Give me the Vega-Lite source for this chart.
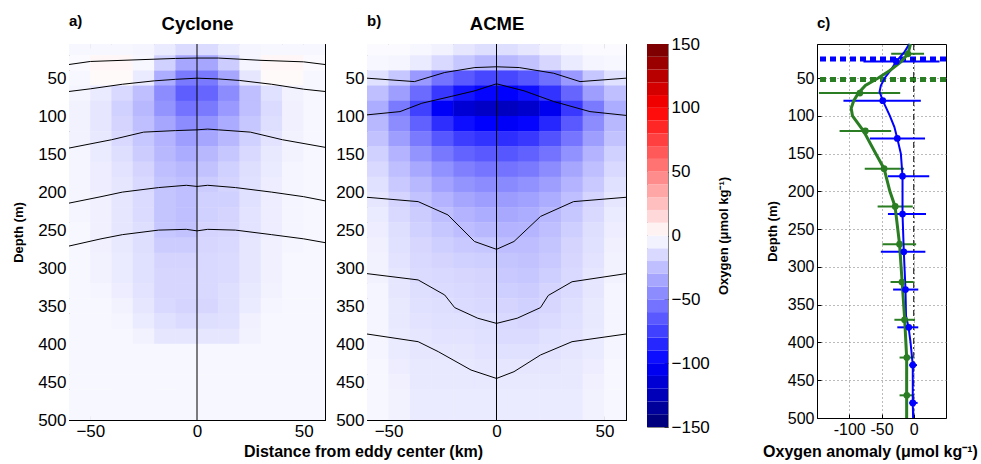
{
"$schema": "https://vega.github.io/schema/vega-lite/v6.json",
"padding": {"left": 12, "top": 13, "right": 2, "bottom": 2},
"bounds": "flush",
"spacing": 0,
"config": {
 "font": "Liberation Sans",
 "view": {"stroke": "black", "strokeWidth": 1},
 "axis": {"domain": true, "domainColor": "black", "domainWidth": 1, "grid": false, "labelColor": "black", "titleColor": "black", "tickColor": "black", "labelFontSize": 17, "titleFontSize": 13, "titleFontWeight": "bold", "tickSize": -4, "labelPadding": 7, "zindex": 1, "labelFont": "Liberation Sans", "titleFont": "Liberation Sans"},
 "title": {"fontSize": 15, "fontWeight": "bold", "color": "black", "anchor": "start", "frame": "group", "font": "Liberation Sans"}
},
"datasets": {
 "cy": [
{"x":-55,"d":10,"v":-3},{"x":-45,"d":10,"v":-3},{"x":-35,"d":10,"v":-3},{"x":-25,"d":10,"v":-4},{"x":-15,"d":10,"v":-8},{"x":-5,"d":10,"v":-14},{"x":5,"d":10,"v":-14},{"x":15,"d":10,"v":-8},{"x":25,"d":10,"v":-4},{"x":35,"d":10,"v":-3},{"x":45,"d":10,"v":-3},{"x":55,"d":10,"v":-3},
{"x":-55,"d":30,"v":-2},{"x":-45,"d":30,"v":3},{"x":-35,"d":30,"v":3},{"x":-25,"d":30,"v":-3},{"x":-15,"d":30,"v":-18},{"x":-5,"d":30,"v":-35},{"x":5,"d":30,"v":-35},{"x":15,"d":30,"v":-20},{"x":25,"d":30,"v":-4},{"x":35,"d":30,"v":3},{"x":45,"d":30,"v":3},{"x":55,"d":30,"v":-2},
{"x":-55,"d":50,"v":-3},{"x":-45,"d":50,"v":2},{"x":-35,"d":50,"v":2},{"x":-25,"d":50,"v":-8},{"x":-15,"d":50,"v":-32},{"x":-5,"d":50,"v":-52},{"x":5,"d":50,"v":-52},{"x":15,"d":50,"v":-35},{"x":25,"d":50,"v":-10},{"x":35,"d":50,"v":2},{"x":45,"d":50,"v":2},{"x":55,"d":50,"v":-3},
{"x":-55,"d":70,"v":-4},{"x":-45,"d":70,"v":-8},{"x":-35,"d":70,"v":-15},{"x":-25,"d":70,"v":-25},{"x":-15,"d":70,"v":-45},{"x":-5,"d":70,"v":-63},{"x":5,"d":70,"v":-60},{"x":15,"d":70,"v":-45},{"x":25,"d":70,"v":-25},{"x":35,"d":70,"v":-12},{"x":45,"d":70,"v":-5},{"x":55,"d":70,"v":-3},
{"x":-55,"d":90,"v":-5},{"x":-45,"d":90,"v":-10},{"x":-35,"d":90,"v":-18},{"x":-25,"d":90,"v":-28},{"x":-15,"d":90,"v":-42},{"x":-5,"d":90,"v":-55},{"x":5,"d":90,"v":-52},{"x":15,"d":90,"v":-40},{"x":25,"d":90,"v":-25},{"x":35,"d":90,"v":-14},{"x":45,"d":90,"v":-6},{"x":55,"d":90,"v":-3},
{"x":-55,"d":110,"v":-5},{"x":-45,"d":110,"v":-10},{"x":-35,"d":110,"v":-17},{"x":-25,"d":110,"v":-25},{"x":-15,"d":110,"v":-35},{"x":-5,"d":110,"v":-45},{"x":5,"d":110,"v":-42},{"x":15,"d":110,"v":-33},{"x":25,"d":110,"v":-22},{"x":35,"d":110,"v":-13},{"x":45,"d":110,"v":-6},{"x":55,"d":110,"v":-3},
{"x":-55,"d":130,"v":-5},{"x":-45,"d":130,"v":-9},{"x":-35,"d":130,"v":-15},{"x":-25,"d":130,"v":-22},{"x":-15,"d":130,"v":-30},{"x":-5,"d":130,"v":-38},{"x":5,"d":130,"v":-35},{"x":15,"d":130,"v":-28},{"x":25,"d":130,"v":-18},{"x":35,"d":130,"v":-11},{"x":45,"d":130,"v":-5},{"x":55,"d":130,"v":-3},
{"x":-55,"d":150,"v":-4},{"x":-45,"d":150,"v":-8},{"x":-35,"d":150,"v":-13},{"x":-25,"d":150,"v":-20},{"x":-15,"d":150,"v":-28},{"x":-5,"d":150,"v":-33},{"x":5,"d":150,"v":-28},{"x":15,"d":150,"v":-22},{"x":25,"d":150,"v":-15},{"x":35,"d":150,"v":-9},{"x":45,"d":150,"v":-5},{"x":55,"d":150,"v":-3},
{"x":-55,"d":170,"v":-4},{"x":-45,"d":170,"v":-7},{"x":-35,"d":170,"v":-11},{"x":-25,"d":170,"v":-17},{"x":-15,"d":170,"v":-25},{"x":-5,"d":170,"v":-28},{"x":5,"d":170,"v":-24},{"x":15,"d":170,"v":-18},{"x":25,"d":170,"v":-13},{"x":35,"d":170,"v":-8},{"x":45,"d":170,"v":-4},{"x":55,"d":170,"v":-3},
{"x":-55,"d":190,"v":-4},{"x":-45,"d":190,"v":-7},{"x":-35,"d":190,"v":-10},{"x":-25,"d":190,"v":-15},{"x":-15,"d":190,"v":-23},{"x":-5,"d":190,"v":-25},{"x":5,"d":190,"v":-20},{"x":15,"d":190,"v":-17},{"x":25,"d":190,"v":-12},{"x":35,"d":190,"v":-7},{"x":45,"d":190,"v":-4},{"x":55,"d":190,"v":-3},
{"x":-55,"d":210,"v":-4},{"x":-45,"d":210,"v":-6},{"x":-35,"d":210,"v":-10},{"x":-25,"d":210,"v":-14},{"x":-15,"d":210,"v":-23},{"x":-5,"d":210,"v":-25},{"x":5,"d":210,"v":-18},{"x":15,"d":210,"v":-18},{"x":25,"d":210,"v":-12},{"x":35,"d":210,"v":-7},{"x":45,"d":210,"v":-4},{"x":55,"d":210,"v":-3},
{"x":-55,"d":230,"v":-4},{"x":-45,"d":230,"v":-6},{"x":-35,"d":230,"v":-10},{"x":-25,"d":230,"v":-14},{"x":-15,"d":230,"v":-23},{"x":-5,"d":230,"v":-25},{"x":5,"d":230,"v":-18},{"x":15,"d":230,"v":-17},{"x":25,"d":230,"v":-11},{"x":35,"d":230,"v":-7},{"x":45,"d":230,"v":-4},{"x":55,"d":230,"v":-3},
{"x":-55,"d":250,"v":-3},{"x":-45,"d":250,"v":-6},{"x":-35,"d":250,"v":-10},{"x":-25,"d":250,"v":-13},{"x":-15,"d":250,"v":-22},{"x":-5,"d":250,"v":-24},{"x":5,"d":250,"v":-17},{"x":15,"d":250,"v":-16},{"x":25,"d":250,"v":-11},{"x":35,"d":250,"v":-7},{"x":45,"d":250,"v":-4},{"x":55,"d":250,"v":-3},
{"x":-55,"d":270,"v":-3},{"x":-45,"d":270,"v":-6},{"x":-35,"d":270,"v":-9},{"x":-25,"d":270,"v":-13},{"x":-15,"d":270,"v":-20},{"x":-5,"d":270,"v":-20},{"x":5,"d":270,"v":-16},{"x":15,"d":270,"v":-15},{"x":25,"d":270,"v":-10},{"x":35,"d":270,"v":-6},{"x":45,"d":270,"v":-4},{"x":55,"d":270,"v":-3},
{"x":-55,"d":290,"v":-3},{"x":-45,"d":290,"v":-5},{"x":-35,"d":290,"v":-8},{"x":-25,"d":290,"v":-12},{"x":-15,"d":290,"v":-17},{"x":-5,"d":290,"v":-17},{"x":5,"d":290,"v":-15},{"x":15,"d":290,"v":-14},{"x":25,"d":290,"v":-10},{"x":35,"d":290,"v":-6},{"x":45,"d":290,"v":-3},{"x":55,"d":290,"v":-3},
{"x":-55,"d":310,"v":-3},{"x":-45,"d":310,"v":-5},{"x":-35,"d":310,"v":-8},{"x":-25,"d":310,"v":-12},{"x":-15,"d":310,"v":-16},{"x":-5,"d":310,"v":-16},{"x":5,"d":310,"v":-15},{"x":15,"d":310,"v":-14},{"x":25,"d":310,"v":-10},{"x":35,"d":310,"v":-6},{"x":45,"d":310,"v":-3},{"x":55,"d":310,"v":-3},
{"x":-55,"d":330,"v":-3},{"x":-45,"d":330,"v":-4},{"x":-35,"d":330,"v":-7},{"x":-25,"d":330,"v":-11},{"x":-15,"d":330,"v":-16},{"x":-5,"d":330,"v":-16},{"x":5,"d":330,"v":-15},{"x":15,"d":330,"v":-13},{"x":25,"d":330,"v":-9},{"x":35,"d":330,"v":-5},{"x":45,"d":330,"v":-3},{"x":55,"d":330,"v":-3},
{"x":-55,"d":350,"v":-3},{"x":-45,"d":350,"v":-3},{"x":-35,"d":350,"v":-5},{"x":-25,"d":350,"v":-10},{"x":-15,"d":350,"v":-15},{"x":-5,"d":350,"v":-17},{"x":5,"d":350,"v":-16},{"x":15,"d":350,"v":-13},{"x":25,"d":350,"v":-8},{"x":35,"d":350,"v":-4},{"x":45,"d":350,"v":-3},{"x":55,"d":350,"v":-3},
{"x":-55,"d":370,"v":-3},{"x":-45,"d":370,"v":-3},{"x":-35,"d":370,"v":-4},{"x":-25,"d":370,"v":-8},{"x":-15,"d":370,"v":-12},{"x":-5,"d":370,"v":-14},{"x":5,"d":370,"v":-13},{"x":15,"d":370,"v":-12},{"x":25,"d":370,"v":-6},{"x":35,"d":370,"v":-3},{"x":45,"d":370,"v":-3},{"x":55,"d":370,"v":-3},
{"x":-55,"d":390,"v":-3},{"x":-45,"d":390,"v":-3},{"x":-35,"d":390,"v":-3},{"x":-25,"d":390,"v":-5},{"x":-15,"d":390,"v":-10},{"x":-5,"d":390,"v":-10},{"x":5,"d":390,"v":-10},{"x":15,"d":390,"v":-10},{"x":25,"d":390,"v":-5},{"x":35,"d":390,"v":-3},{"x":45,"d":390,"v":-3},{"x":55,"d":390,"v":-3},
{"x":-55,"d":410,"v":-3},{"x":-45,"d":410,"v":-3},{"x":-35,"d":410,"v":-3},{"x":-25,"d":410,"v":-3},{"x":-15,"d":410,"v":-3},{"x":-5,"d":410,"v":-3},{"x":5,"d":410,"v":-3},{"x":15,"d":410,"v":-3},{"x":25,"d":410,"v":-3},{"x":35,"d":410,"v":-3},{"x":45,"d":410,"v":-3},{"x":55,"d":410,"v":-3},
{"x":-55,"d":430,"v":-3},{"x":-45,"d":430,"v":-3},{"x":-35,"d":430,"v":-3},{"x":-25,"d":430,"v":-3},{"x":-15,"d":430,"v":-3},{"x":-5,"d":430,"v":-3},{"x":5,"d":430,"v":-3},{"x":15,"d":430,"v":-3},{"x":25,"d":430,"v":-3},{"x":35,"d":430,"v":-3},{"x":45,"d":430,"v":-3},{"x":55,"d":430,"v":-3},
{"x":-55,"d":450,"v":-3},{"x":-45,"d":450,"v":-3},{"x":-35,"d":450,"v":-3},{"x":-25,"d":450,"v":-3},{"x":-15,"d":450,"v":-3},{"x":-5,"d":450,"v":-3},{"x":5,"d":450,"v":-3},{"x":15,"d":450,"v":-3},{"x":25,"d":450,"v":-3},{"x":35,"d":450,"v":-3},{"x":45,"d":450,"v":-3},{"x":55,"d":450,"v":-3},
{"x":-55,"d":470,"v":-3},{"x":-45,"d":470,"v":-3},{"x":-35,"d":470,"v":-3},{"x":-25,"d":470,"v":-3},{"x":-15,"d":470,"v":-3},{"x":-5,"d":470,"v":-3},{"x":5,"d":470,"v":-3},{"x":15,"d":470,"v":-3},{"x":25,"d":470,"v":-3},{"x":35,"d":470,"v":-3},{"x":45,"d":470,"v":-3},{"x":55,"d":470,"v":-3},
{"x":-55,"d":490,"v":-3},{"x":-45,"d":490,"v":-3},{"x":-35,"d":490,"v":-3},{"x":-25,"d":490,"v":-3},{"x":-15,"d":490,"v":-3},{"x":-5,"d":490,"v":-3},{"x":5,"d":490,"v":-3},{"x":15,"d":490,"v":-3},{"x":25,"d":490,"v":-3},{"x":35,"d":490,"v":-3},{"x":45,"d":490,"v":-3},{"x":55,"d":490,"v":-3}
 ],
 "ac": [
{"x":-55,"d":10,"v":-2},{"x":-45,"d":10,"v":-2},{"x":-35,"d":10,"v":-3},{"x":-25,"d":10,"v":-5},{"x":-15,"d":10,"v":-10},{"x":-5,"d":10,"v":-13},{"x":5,"d":10,"v":-13},{"x":15,"d":10,"v":-10},{"x":25,"d":10,"v":-6},{"x":35,"d":10,"v":-3},{"x":45,"d":10,"v":-2},{"x":55,"d":10,"v":-2},
{"x":-55,"d":30,"v":-3},{"x":-45,"d":30,"v":-4},{"x":-35,"d":30,"v":-8},{"x":-25,"d":30,"v":-15},{"x":-15,"d":30,"v":-22},{"x":-5,"d":30,"v":-28},{"x":5,"d":30,"v":-28},{"x":15,"d":30,"v":-24},{"x":25,"d":30,"v":-16},{"x":35,"d":30,"v":-8},{"x":45,"d":30,"v":-4},{"x":55,"d":30,"v":-3},
{"x":-55,"d":50,"v":-12},{"x":-45,"d":50,"v":-22},{"x":-35,"d":50,"v":-40},{"x":-25,"d":50,"v":-55},{"x":-15,"d":50,"v":-65},{"x":-5,"d":50,"v":-72},{"x":5,"d":50,"v":-72},{"x":15,"d":50,"v":-66},{"x":25,"d":50,"v":-56},{"x":35,"d":50,"v":-40},{"x":45,"d":50,"v":-22},{"x":55,"d":50,"v":-12},
{"x":-55,"d":70,"v":-25},{"x":-45,"d":70,"v":-38},{"x":-35,"d":70,"v":-58},{"x":-25,"d":70,"v":-78},{"x":-15,"d":70,"v":-92},{"x":-5,"d":70,"v":-98},{"x":5,"d":70,"v":-100},{"x":15,"d":70,"v":-94},{"x":25,"d":70,"v":-80},{"x":35,"d":70,"v":-60},{"x":45,"d":70,"v":-38},{"x":55,"d":70,"v":-25},
{"x":-55,"d":90,"v":-32},{"x":-45,"d":90,"v":-52},{"x":-35,"d":90,"v":-75},{"x":-25,"d":90,"v":-102},{"x":-15,"d":90,"v":-115},{"x":-5,"d":90,"v":-120},{"x":5,"d":90,"v":-122},{"x":15,"d":90,"v":-118},{"x":25,"d":90,"v":-105},{"x":35,"d":90,"v":-78},{"x":45,"d":90,"v":-52},{"x":55,"d":90,"v":-32},
{"x":-55,"d":110,"v":-28},{"x":-45,"d":110,"v":-45},{"x":-35,"d":110,"v":-62},{"x":-25,"d":110,"v":-82},{"x":-15,"d":110,"v":-95},{"x":-5,"d":110,"v":-100},{"x":5,"d":110,"v":-102},{"x":15,"d":110,"v":-98},{"x":25,"d":110,"v":-85},{"x":35,"d":110,"v":-65},{"x":45,"d":110,"v":-45},{"x":55,"d":110,"v":-28},
{"x":-55,"d":130,"v":-24},{"x":-45,"d":130,"v":-38},{"x":-35,"d":130,"v":-52},{"x":-25,"d":130,"v":-66},{"x":-15,"d":130,"v":-76},{"x":-5,"d":130,"v":-80},{"x":5,"d":130,"v":-82},{"x":15,"d":130,"v":-78},{"x":25,"d":130,"v":-68},{"x":35,"d":130,"v":-54},{"x":45,"d":130,"v":-38},{"x":55,"d":130,"v":-24},
{"x":-55,"d":150,"v":-18},{"x":-45,"d":150,"v":-30},{"x":-35,"d":150,"v":-42},{"x":-25,"d":150,"v":-53},{"x":-15,"d":150,"v":-61},{"x":-5,"d":150,"v":-65},{"x":5,"d":150,"v":-66},{"x":15,"d":150,"v":-62},{"x":25,"d":150,"v":-55},{"x":35,"d":150,"v":-43},{"x":45,"d":150,"v":-30},{"x":55,"d":150,"v":-18},
{"x":-55,"d":170,"v":-15},{"x":-45,"d":170,"v":-25},{"x":-35,"d":170,"v":-34},{"x":-25,"d":170,"v":-43},{"x":-15,"d":170,"v":-50},{"x":-5,"d":170,"v":-54},{"x":5,"d":170,"v":-55},{"x":15,"d":170,"v":-52},{"x":25,"d":170,"v":-45},{"x":35,"d":170,"v":-35},{"x":45,"d":170,"v":-25},{"x":55,"d":170,"v":-15},
{"x":-55,"d":190,"v":-12},{"x":-45,"d":190,"v":-21},{"x":-35,"d":190,"v":-28},{"x":-25,"d":190,"v":-36},{"x":-15,"d":190,"v":-42},{"x":-5,"d":190,"v":-45},{"x":5,"d":190,"v":-46},{"x":15,"d":190,"v":-43},{"x":25,"d":190,"v":-38},{"x":35,"d":190,"v":-30},{"x":45,"d":190,"v":-21},{"x":55,"d":190,"v":-12},
{"x":-55,"d":210,"v":-10},{"x":-45,"d":210,"v":-17},{"x":-35,"d":210,"v":-24},{"x":-25,"d":210,"v":-30},{"x":-15,"d":210,"v":-35},{"x":-5,"d":210,"v":-38},{"x":5,"d":210,"v":-39},{"x":15,"d":210,"v":-37},{"x":25,"d":210,"v":-32},{"x":35,"d":210,"v":-25},{"x":45,"d":210,"v":-17},{"x":55,"d":210,"v":-10},
{"x":-55,"d":230,"v":-8},{"x":-45,"d":230,"v":-15},{"x":-35,"d":230,"v":-20},{"x":-25,"d":230,"v":-25},{"x":-15,"d":230,"v":-30},{"x":-5,"d":230,"v":-32},{"x":5,"d":230,"v":-34},{"x":15,"d":230,"v":-32},{"x":25,"d":230,"v":-28},{"x":35,"d":230,"v":-22},{"x":45,"d":230,"v":-15},{"x":55,"d":230,"v":-8},
{"x":-55,"d":250,"v":-7},{"x":-45,"d":250,"v":-13},{"x":-35,"d":250,"v":-18},{"x":-25,"d":250,"v":-22},{"x":-15,"d":250,"v":-26},{"x":-5,"d":250,"v":-28},{"x":5,"d":250,"v":-30},{"x":15,"d":250,"v":-29},{"x":25,"d":250,"v":-25},{"x":35,"d":250,"v":-19},{"x":45,"d":250,"v":-13},{"x":55,"d":250,"v":-7},
{"x":-55,"d":270,"v":-6},{"x":-45,"d":270,"v":-12},{"x":-35,"d":270,"v":-16},{"x":-25,"d":270,"v":-19},{"x":-15,"d":270,"v":-21},{"x":-5,"d":270,"v":-22},{"x":5,"d":270,"v":-26},{"x":15,"d":270,"v":-26},{"x":25,"d":270,"v":-23},{"x":35,"d":270,"v":-17},{"x":45,"d":270,"v":-12},{"x":55,"d":270,"v":-6},
{"x":-55,"d":290,"v":-5},{"x":-45,"d":290,"v":-11},{"x":-35,"d":290,"v":-15},{"x":-25,"d":290,"v":-17},{"x":-15,"d":290,"v":-18},{"x":-5,"d":290,"v":-19},{"x":5,"d":290,"v":-23},{"x":15,"d":290,"v":-24},{"x":25,"d":290,"v":-21},{"x":35,"d":290,"v":-16},{"x":45,"d":290,"v":-11},{"x":55,"d":290,"v":-5},
{"x":-55,"d":310,"v":-5},{"x":-45,"d":310,"v":-10},{"x":-35,"d":310,"v":-14},{"x":-25,"d":310,"v":-15},{"x":-15,"d":310,"v":-16},{"x":-5,"d":310,"v":-17},{"x":5,"d":310,"v":-21},{"x":15,"d":310,"v":-22},{"x":25,"d":310,"v":-19},{"x":35,"d":310,"v":-15},{"x":45,"d":310,"v":-10},{"x":55,"d":310,"v":-5},
{"x":-55,"d":330,"v":-4},{"x":-45,"d":330,"v":-10},{"x":-35,"d":330,"v":-13},{"x":-25,"d":330,"v":-14},{"x":-15,"d":330,"v":-15},{"x":-5,"d":330,"v":-16},{"x":5,"d":330,"v":-19},{"x":15,"d":330,"v":-20},{"x":25,"d":330,"v":-17},{"x":35,"d":330,"v":-14},{"x":45,"d":330,"v":-10},{"x":55,"d":330,"v":-4},
{"x":-55,"d":350,"v":-4},{"x":-45,"d":350,"v":-9},{"x":-35,"d":350,"v":-12},{"x":-25,"d":350,"v":-13},{"x":-15,"d":350,"v":-14},{"x":-5,"d":350,"v":-15},{"x":5,"d":350,"v":-17},{"x":15,"d":350,"v":-18},{"x":25,"d":350,"v":-16},{"x":35,"d":350,"v":-13},{"x":45,"d":350,"v":-9},{"x":55,"d":350,"v":-4},
{"x":-55,"d":370,"v":-4},{"x":-45,"d":370,"v":-9},{"x":-35,"d":370,"v":-11},{"x":-25,"d":370,"v":-12},{"x":-15,"d":370,"v":-12},{"x":-5,"d":370,"v":-13},{"x":5,"d":370,"v":-15},{"x":15,"d":370,"v":-16},{"x":25,"d":370,"v":-14},{"x":35,"d":370,"v":-12},{"x":45,"d":370,"v":-9},{"x":55,"d":370,"v":-4},
{"x":-55,"d":390,"v":-4},{"x":-45,"d":390,"v":-8},{"x":-35,"d":390,"v":-10},{"x":-25,"d":390,"v":-11},{"x":-15,"d":390,"v":-11},{"x":-5,"d":390,"v":-12},{"x":5,"d":390,"v":-14},{"x":15,"d":390,"v":-14},{"x":25,"d":390,"v":-12},{"x":35,"d":390,"v":-11},{"x":45,"d":390,"v":-8},{"x":55,"d":390,"v":-4},
{"x":-55,"d":410,"v":-4},{"x":-45,"d":410,"v":-8},{"x":-35,"d":410,"v":-10},{"x":-25,"d":410,"v":-10},{"x":-15,"d":410,"v":-10},{"x":-5,"d":410,"v":-11},{"x":5,"d":410,"v":-12},{"x":15,"d":410,"v":-12},{"x":25,"d":410,"v":-11},{"x":35,"d":410,"v":-10},{"x":45,"d":410,"v":-8},{"x":55,"d":410,"v":-4},
{"x":-55,"d":430,"v":-3},{"x":-45,"d":430,"v":-7},{"x":-35,"d":430,"v":-9},{"x":-25,"d":430,"v":-9},{"x":-15,"d":430,"v":-9},{"x":-5,"d":430,"v":-10},{"x":5,"d":430,"v":-10},{"x":15,"d":430,"v":-10},{"x":25,"d":430,"v":-10},{"x":35,"d":430,"v":-9},{"x":45,"d":430,"v":-7},{"x":55,"d":430,"v":-3},
{"x":-55,"d":450,"v":-3},{"x":-45,"d":450,"v":-6},{"x":-35,"d":450,"v":-9},{"x":-25,"d":450,"v":-9},{"x":-15,"d":450,"v":-9},{"x":-5,"d":450,"v":-9},{"x":5,"d":450,"v":-9},{"x":15,"d":450,"v":-9},{"x":25,"d":450,"v":-9},{"x":35,"d":450,"v":-9},{"x":45,"d":450,"v":-6},{"x":55,"d":450,"v":-3},
{"x":-55,"d":470,"v":-3},{"x":-45,"d":470,"v":-5},{"x":-35,"d":470,"v":-8},{"x":-25,"d":470,"v":-8},{"x":-15,"d":470,"v":-8},{"x":-5,"d":470,"v":-8},{"x":5,"d":470,"v":-8},{"x":15,"d":470,"v":-8},{"x":25,"d":470,"v":-8},{"x":35,"d":470,"v":-8},{"x":45,"d":470,"v":-5},{"x":55,"d":470,"v":-3},
{"x":-55,"d":490,"v":-3},{"x":-45,"d":490,"v":-5},{"x":-35,"d":490,"v":-8},{"x":-25,"d":490,"v":-8},{"x":-15,"d":490,"v":-8},{"x":-5,"d":490,"v":-8},{"x":5,"d":490,"v":-8},{"x":15,"d":490,"v":-8},{"x":25,"d":490,"v":-8},{"x":35,"d":490,"v":-8},{"x":45,"d":490,"v":-5},{"x":55,"d":490,"v":-3}
 ],
 "cyl": [
{"k":1,"x":-60,"d":32},{"k":1,"x":-50,"d":28},{"k":1,"x":-30,"d":26},{"k":1,"x":-10,"d":24},{"k":1,"x":0,"d":23.5},{"k":1,"x":10,"d":23.5},{"k":1,"x":30,"d":26.5},{"k":1,"x":50,"d":28.5},{"k":1,"x":60,"d":32},
{"k":2,"x":-60,"d":67.5},{"k":2,"x":-50,"d":64},{"k":2,"x":-35,"d":58},{"k":2,"x":-20,"d":53.5},{"k":2,"x":-10,"d":51.5},{"k":2,"x":0,"d":50},{"k":2,"x":10,"d":51},{"k":2,"x":20,"d":53},{"k":2,"x":35,"d":58},{"k":2,"x":50,"d":64.5},{"k":2,"x":60,"d":67.5},
{"k":3,"x":-60,"d":142},{"k":3,"x":-40,"d":131},{"k":3,"x":-25,"d":121},{"k":3,"x":-10,"d":119},{"k":3,"x":0,"d":118},{"k":3,"x":5,"d":117},{"k":3,"x":10,"d":118},{"k":3,"x":25,"d":121},{"k":3,"x":40,"d":131},{"k":3,"x":60,"d":141},
{"k":4,"x":-60,"d":214.5},{"k":4,"x":-45,"d":206},{"k":4,"x":-35,"d":200},{"k":4,"x":-18,"d":194},{"k":4,"x":-5,"d":191},{"k":4,"x":0,"d":192.5},{"k":4,"x":5,"d":191},{"k":4,"x":18,"d":194},{"k":4,"x":35,"d":200},{"k":4,"x":50,"d":206},{"k":4,"x":60,"d":211.5},
{"k":5,"x":-60,"d":271},{"k":5,"x":-45,"d":261.5},{"k":5,"x":-35,"d":256},{"k":5,"x":-18,"d":250},{"k":5,"x":-5,"d":249},{"k":5,"x":0,"d":251},{"k":5,"x":5,"d":249},{"k":5,"x":18,"d":250},{"k":5,"x":35,"d":256},{"k":5,"x":50,"d":261.5},{"k":5,"x":60,"d":266.5}
 ],
 "acl": [
{"k":1,"x":-60,"d":50},{"k":1,"x":-38,"d":54.5},{"k":1,"x":-24,"d":42.5},{"k":1,"x":-10,"d":36},{"k":1,"x":0,"d":35},{"k":1,"x":10.5,"d":36},{"k":1,"x":26.5,"d":43.5},{"k":1,"x":38.7,"d":54.5},{"k":1,"x":60,"d":50},
{"k":2,"x":-60,"d":98.3},{"k":2,"x":-44.7,"d":94},{"k":2,"x":-34.6,"d":83},{"k":2,"x":-21,"d":74},{"k":2,"x":-10,"d":66.6},{"k":2,"x":0,"d":57.4},{"k":2,"x":12.7,"d":66.6},{"k":2,"x":26.5,"d":80.7},{"k":2,"x":43.3,"d":94},{"k":2,"x":60,"d":99},
{"k":3,"x":-60,"d":206.8},{"k":3,"x":-36.3,"d":212.5},{"k":3,"x":-22.5,"d":230},{"k":3,"x":-10.2,"d":265},{"k":3,"x":0,"d":275.3},{"k":3,"x":8.1,"d":265},{"k":3,"x":20.4,"d":232},{"k":3,"x":35.7,"d":212.5},{"k":3,"x":60,"d":206.8},
{"k":4,"x":-60,"d":307.3},{"k":4,"x":-36.3,"d":315.6},{"k":4,"x":-24,"d":335.4},{"k":4,"x":-19.4,"d":352},{"k":4,"x":-8.7,"d":366},{"k":4,"x":0,"d":372.8},{"k":4,"x":9.6,"d":366},{"k":4,"x":20.4,"d":352},{"k":4,"x":24,"d":336},{"k":4,"x":35,"d":318},{"k":4,"x":60,"d":307.3},
{"k":5,"x":-60,"d":386.8},{"k":5,"x":-36.3,"d":396.9},{"k":5,"x":-27,"d":410},{"k":5,"x":-11.8,"d":434.2},{"k":5,"x":0,"d":445.3},{"k":5,"x":8.1,"d":436.4},{"k":5,"x":20.4,"d":414.4},{"k":5,"x":35,"d":396.9},{"k":5,"x":60,"d":386.8}
 ],
 "cb": [
{"lo":-150,"hi":-140,"c":-145},{"lo":-140,"hi":-130,"c":-135},{"lo":-130,"hi":-120,"c":-125},{"lo":-120,"hi":-110,"c":-115},{"lo":-110,"hi":-100,"c":-105},{"lo":-100,"hi":-90,"c":-95},{"lo":-90,"hi":-80,"c":-85},{"lo":-80,"hi":-70,"c":-75},{"lo":-70,"hi":-60,"c":-65},{"lo":-60,"hi":-50,"c":-55},{"lo":-50,"hi":-40,"c":-45},{"lo":-40,"hi":-30,"c":-35},{"lo":-30,"hi":-20,"c":-25},{"lo":-20,"hi":-10,"c":-15},{"lo":-10,"hi":0,"c":-5},
{"lo":0,"hi":10,"c":5},{"lo":10,"hi":20,"c":15},{"lo":20,"hi":30,"c":25},{"lo":30,"hi":40,"c":35},{"lo":40,"hi":50,"c":45},{"lo":50,"hi":60,"c":55},{"lo":60,"hi":70,"c":65},{"lo":70,"hi":80,"c":75},{"lo":80,"hi":90,"c":85},{"lo":90,"hi":100,"c":95},{"lo":100,"hi":110,"c":105},{"lo":110,"hi":120,"c":115},{"lo":120,"hi":130,"c":125},{"lo":130,"hi":140,"c":135},{"lo":140,"hi":150,"c":145}
 ],
 "ch": [{"s":"b","d":25},{"s":"g","d":52}],
 "cp": [
{"s":"b","d":28,"v":-27,"lo":-78,"hi":40},{"s":"b","d":80,"v":-48,"lo":-109,"hi":11},{"s":"b","d":130,"v":-25.5,"lo":-68,"hi":17.5},{"s":"b","d":180,"v":-17.4,"lo":-40,"hi":24},{"s":"b","d":230,"v":-17.4,"lo":-40,"hi":19},{"s":"b","d":280,"v":-15.4,"lo":-51,"hi":18},{"s":"b","d":330,"v":-12.8,"lo":-32,"hi":7},{"s":"b","d":380,"v":-7.7,"lo":-25.5,"hi":7},{"s":"b","d":430,"v":-1.5,"lo":-7,"hi":5},{"s":"b","d":480,"v":-1.5,"lo":-7,"hi":6},
{"s":"g","d":18,"v":-9,"lo":-35,"hi":16},{"s":"g","d":70,"v":-83.5,"lo":-147,"hi":-21},{"s":"g","d":120,"v":-75,"lo":-115,"hi":-35},{"s":"g","d":170,"v":-46,"lo":-76,"hi":-15},{"s":"g","d":220,"v":-28.7,"lo":-56,"hi":-1.5},{"s":"g","d":270,"v":-22,"lo":-48.6,"hi":3.7},{"s":"g","d":320,"v":-18.4,"lo":-36,"hi":0},{"s":"g","d":370,"v":-14.3,"lo":-30,"hi":2},{"s":"g","d":420,"v":-10.8,"lo":-22,"hi":0},{"s":"g","d":470,"v":-10.8,"lo":-22,"hi":-1}
 ],
 "cl": [
{"s":"b","d":5,"v":-7},{"s":"b","d":15,"v":-14},{"s":"b","d":28,"v":-27},{"s":"b","d":40,"v":-36},{"s":"b","d":50,"v":-45},{"s":"b","d":60,"v":-51},{"s":"b","d":68,"v":-53},{"s":"b","d":80,"v":-48},{"s":"b","d":100,"v":-37},{"s":"b","d":115,"v":-30},{"s":"b","d":130,"v":-25.5},{"s":"b","d":150,"v":-20},{"s":"b","d":180,"v":-17.4},{"s":"b","d":230,"v":-17.4},{"s":"b","d":280,"v":-15.4},{"s":"b","d":330,"v":-12.8},{"s":"b","d":365,"v":-12},{"s":"b","d":380,"v":-8},{"s":"b","d":400,"v":-5},{"s":"b","d":430,"v":-1.5},{"s":"b","d":480,"v":-1.5},{"s":"b","d":500,"v":-1},
{"s":"g","d":5,"v":-5},{"s":"g","d":18,"v":-9},{"s":"g","d":28,"v":-19},{"s":"g","d":40,"v":-37},{"s":"g","d":50,"v":-55},{"s":"g","d":60,"v":-75},{"s":"g","d":70,"v":-86},{"s":"g","d":80,"v":-93},{"s":"g","d":90,"v":-97},{"s":"g","d":100,"v":-95},{"s":"g","d":120,"v":-78},{"s":"g","d":150,"v":-59},{"s":"g","d":170,"v":-46},{"s":"g","d":200,"v":-37},{"s":"g","d":220,"v":-29},{"s":"g","d":270,"v":-22},{"s":"g","d":320,"v":-18},{"s":"g","d":370,"v":-14},{"s":"g","d":420,"v":-11},{"s":"g","d":470,"v":-11},{"s":"g","d":500,"v":-11}
 ]
},
"hconcat": [
 {
  "width": 256, "height": 376,
  "title": {"text": "a)", "dy": 18},
  "layer": [
   {"data": {"name": "cy"}, "mark": {"type": "rect", "width": 21.8, "height": 15.6, "clip": true},
    "encoding": {
     "x": {"field": "x", "type": "quantitative", "scale": {"domain": [-60, 60], "nice": false, "zero": false}, "axis": {"values": [-50, 0, 50], "title": "Distance from eddy center (km)", "titleFontSize": 16, "titleX": 294, "titlePadding": 4}},
     "y": {"field": "d", "type": "quantitative", "scale": {"domain": [5, 500], "reverse": true, "nice": false, "zero": false}, "axis": {"values": [50,100,150,200,250,300,350,400,450,500], "title": "Depth (m)", "titlePadding": 12}},
     "color": {"field": "v", "type": "quantitative", "scale": {"domain": [-150,-100,0,100,150], "range": ["#000070","#0000ff","#ffffff","#ff0000","#700000"], "interpolate": "rgb"}, "legend": null}
    }},
   {"data": {"name": "cyl"}, "mark": {"type": "line", "color": "black", "strokeWidth": 1, "clip": true},
    "encoding": {
     "x": {"field": "x", "type": "quantitative", "axis": {"orient": "top", "values": [-50, 0, 50], "labels": false, "title": "Cyclone", "titleFontSize": 18.5, "titlePadding": 10}},
     "y": {"field": "d", "type": "quantitative", "axis": {"orient": "right", "values": [50,100,150,200,250,300,350,400,450,500], "labels": false, "title": null}},
     "detail": {"field": "k", "type": "nominal"}
    }},
   {"data": {"values": [{"x": 0}]}, "mark": {"type": "rule", "color": "black", "strokeWidth": 1},
    "encoding": {"x": {"field": "x", "type": "quantitative", "axis": null}}}
  ],
  "resolve": {"axis": {"x": "independent", "y": "independent"}}
 },
 {"width": 42, "height": 10, "data": {"values": []}, "mark": {"type": "point", "opacity": 0}, "view": {"stroke": null}},
 {
  "width": 259, "height": 376,
  "title": {"text": "b)", "dy": 18},
  "layer": [
   {"data": {"name": "ac"}, "mark": {"type": "rect", "width": 22, "height": 15.6, "clip": true},
    "encoding": {
     "x": {"field": "x", "type": "quantitative", "scale": {"domain": [-60, 60], "nice": false, "zero": false}, "axis": {"values": [-50, 0, 50], "title": null}},
     "y": {"field": "d", "type": "quantitative", "scale": {"domain": [5, 500], "reverse": true, "nice": false, "zero": false}, "axis": {"values": [50,100,150,200,250,300,350,400,450,500], "title": null}},
     "color": {"field": "v", "type": "quantitative", "scale": {"domain": [-150,-100,0,100,150], "range": ["#000070","#0000ff","#ffffff","#ff0000","#700000"], "interpolate": "rgb"}, "legend": null}
    }},
   {"data": {"name": "acl"}, "mark": {"type": "line", "color": "black", "strokeWidth": 1, "clip": true},
    "encoding": {
     "x": {"field": "x", "type": "quantitative", "axis": {"orient": "top", "values": [-50, 0, 50], "labels": false, "title": "ACME", "titleFontSize": 18.5, "titlePadding": 10}},
     "y": {"field": "d", "type": "quantitative", "axis": {"orient": "right", "values": [50,100,150,200,250,300,350,400,450,500], "labels": false, "title": null}},
     "detail": {"field": "k", "type": "nominal"}
    }},
   {"data": {"values": [{"x": 0}]}, "mark": {"type": "rule", "color": "black", "strokeWidth": 1},
    "encoding": {"x": {"field": "x", "type": "quantitative", "axis": null}}}
  ],
  "resolve": {"axis": {"x": "independent", "y": "independent"}}
 },
 {"width": 21, "height": 10, "data": {"values": []}, "mark": {"type": "point", "opacity": 0}, "view": {"stroke": null}},
 {
  "width": 21, "height": 383,
  "view": {"stroke": "#888"},
  "data": {"name": "cb"},
  "mark": {"type": "rect"},
  "encoding": {
   "y": {"field": "lo", "type": "quantitative", "scale": {"domain": [-150, 150], "nice": false, "zero": false}, "axis": {"orient": "right", "domain": false, "values": [-150,-100,-50,0,50,100,150], "title": "Oxygen (μmol kg⁻¹)", "titleAngle": 270, "titlePadding": 21, "tickSize": -4, "tickColor": "#333"}},
   "y2": {"field": "hi"},
   "color": {"field": "c", "type": "quantitative", "scale": {"domain": [-150,-100,0,100,150], "range": ["#000070","#0000ff","#ffffff","#ff0000","#700000"], "interpolate": "rgb"}, "legend": null}
  }
 },
 {"width": 149, "height": 10, "data": {"values": []}, "mark": {"type": "point", "opacity": 0}, "view": {"stroke": null}},
 {
  "width": 129, "height": 374,
  "title": {"text": "c)", "offset": 7},
  "layer": [
   {"data": {"name": "ch"}, "mark": {"type": "rule", "strokeWidth": 5, "strokeDash": [6, 4]},
    "encoding": {
     "y": {"field": "d", "type": "quantitative", "scale": {"domain": [5, 500], "reverse": true, "nice": false, "zero": false}, "axis": {"values": [50,100,150,200,250,300,350,400,450,500], "title": "Depth (m)", "titlePadding": 8, "labelFontSize": 16, "grid": true, "gridDash": [1, 3], "gridColor": "#777", "zindex": 0}},
     "color": {"field": "s", "type": "nominal", "scale": {"domain": ["b", "g"], "range": ["#0000ff", "#2a7d22"]}, "legend": null}
    }},
   {"data": {"values": [{"x": 0}]}, "mark": {"type": "rule", "color": "black", "strokeWidth": 1, "strokeDash": [6, 3, 2, 3]},
    "encoding": {"x": {"field": "x", "type": "quantitative", "scale": {"domain": [-150, 50], "nice": false, "zero": false}, "axis": {"values": [-100, -50, 0], "labelExpr": "datum.value", "labelFontSize": 16, "title": "Oxygen anomaly (μmol kg⁻¹)", "titleFontSize": 16, "titlePadding": 6, "titleX": 53, "grid": true, "gridDash": [1, 3], "gridColor": "#777", "zindex": 0}}}},
   {"data": {"name": "cp"}, "mark": {"type": "rule", "strokeWidth": 2},
    "encoding": {"x": {"field": "lo", "type": "quantitative"}, "x2": {"field": "hi"}, "y": {"field": "d", "type": "quantitative"}, "color": {"field": "s", "type": "nominal"}}},
   {"data": {"name": "cl"}, "mark": {"type": "line"},
    "encoding": {"x": {"field": "v", "type": "quantitative"}, "y": {"field": "d", "type": "quantitative"}, "color": {"field": "s", "type": "nominal"}, "order": {"field": "d", "type": "quantitative"}, "strokeWidth": {"field": "s", "type": "nominal", "scale": {"domain": ["b", "g"], "range": [2, 3]}, "legend": null}}},
   {"data": {"name": "cp"}, "mark": {"type": "circle", "size": 45, "opacity": 1},
    "encoding": {"x": {"field": "v", "type": "quantitative"}, "y": {"field": "d", "type": "quantitative"}, "color": {"field": "s", "type": "nominal"}}}
  ]
 }
]
}
